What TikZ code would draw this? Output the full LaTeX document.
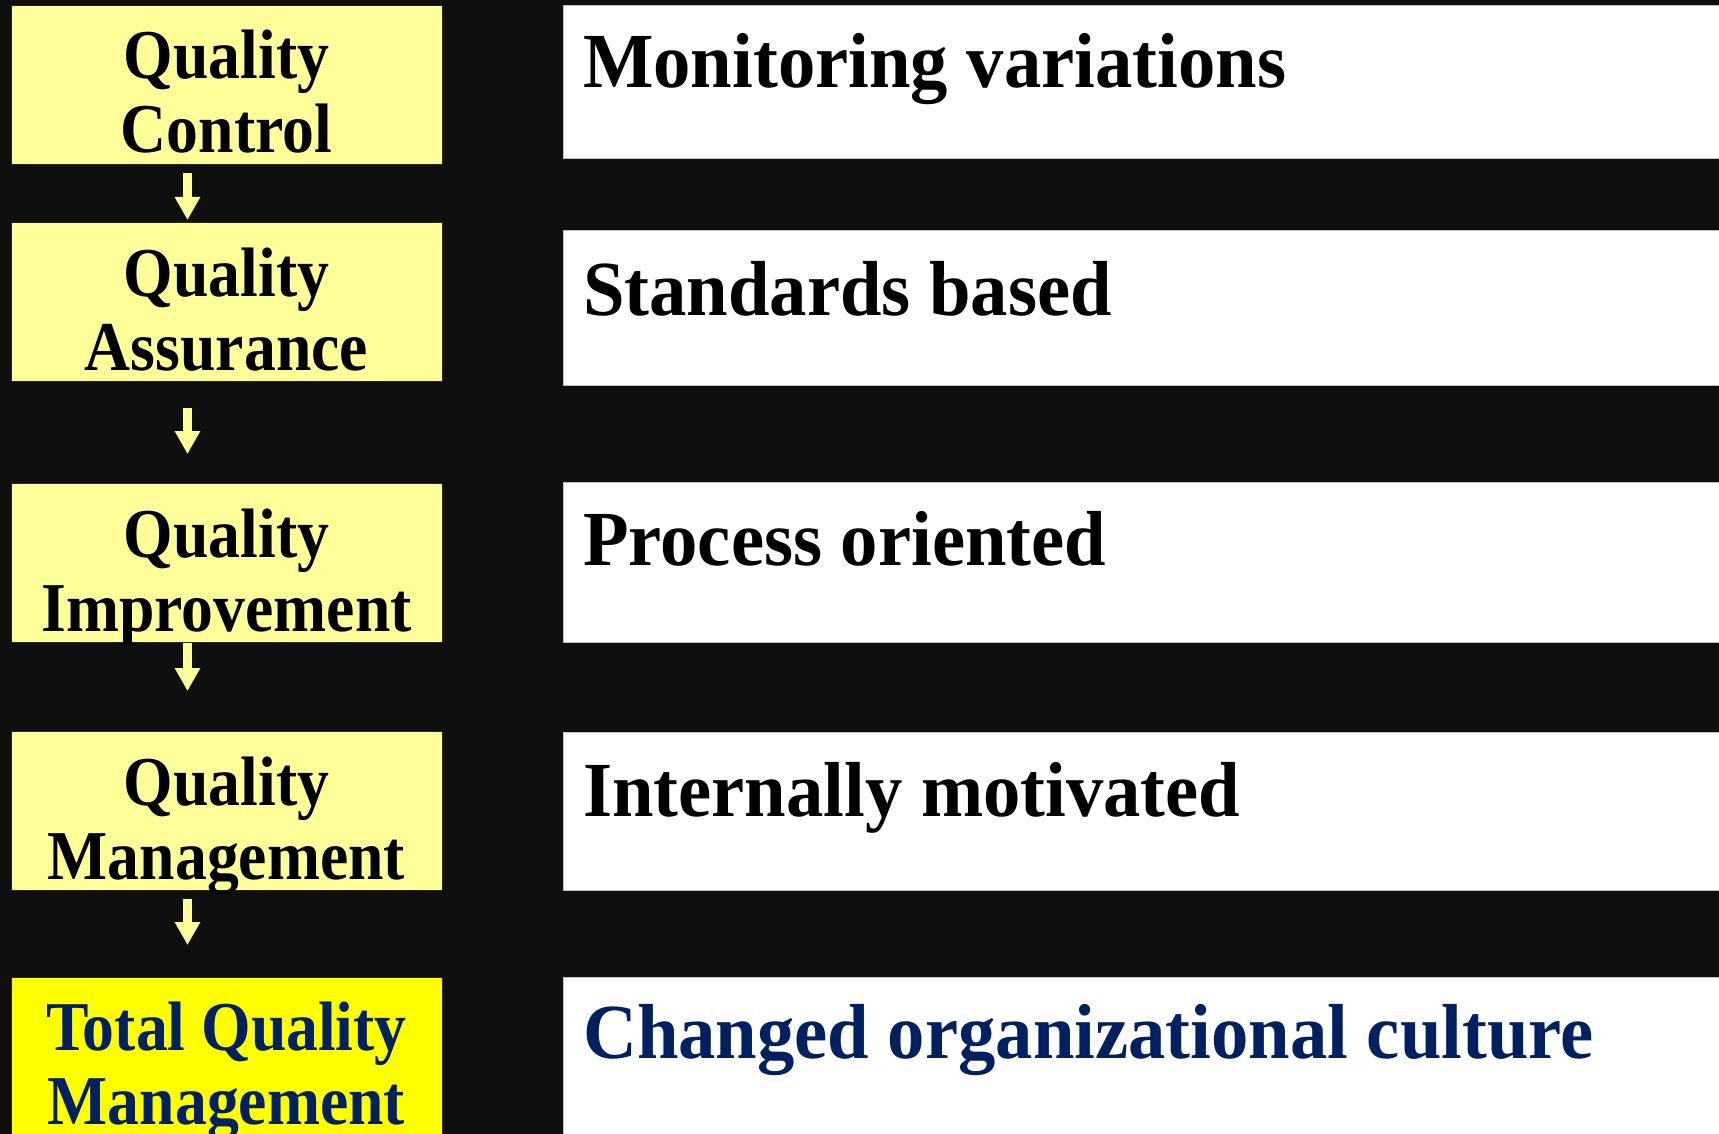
\documentclass[tikz,border=0pt]{standalone}
\usepackage{fontspec}
\setmainfont{Liberation Serif}
\newfontfamily\leftfont[FakeStretch=0.91]{Liberation Serif}
\newfontfamily\rightfont[FakeStretch=0.957]{Liberation Serif}
\usetikzlibrary{arrows.meta}
\definecolor{bg}{HTML}{0F0F0F}
\definecolor{lyel}{HTML}{FFFF99}
\definecolor{byel}{HTML}{FFFF00}
\definecolor{navy}{HTML}{002060}
\definecolor{wedge}{HTML}{C0C0C0}
\begin{document}
\begin{tikzpicture}[x=1pt,y=-1pt,
  lbox/.style={draw=black!85, line width=1pt, fill=lyel, minimum width=431pt, minimum height=159pt, anchor=north west, inner sep=0pt, outer sep=0pt},
  wbox/.style={draw=wedge, line width=1pt, fill=white, minimum width=1170pt, anchor=north west, inner sep=0pt, outer sep=0pt},
  ltext/.style={font=\leftfont\bfseries\fontsize{70}{74}\selectfont, align=center, anchor=base, inner sep=0pt},
  rtext/.style={font=\rightfont\bfseries\fontsize{78}{80}\selectfont, anchor=base west, inner sep=0pt},
  arr/.style={draw=lyel, line width=8.4pt, -{Triangle[width=24pt,length=23pt]}}
]
\fill[bg] (0,0) rectangle (1719,1134);
\useasboundingbox (0,0) rectangle (1719,1134);
\clip (0,0) rectangle (1719,1134);

% left boxes
\node[lbox] (qc) at (11,5.5) {};
\node[lbox] (qa) at (11,222.5) {};
\node[lbox] (qi) at (11,483.5) {};
\node[lbox] (qm) at (11,731) {};
\node[lbox, fill=byel, minimum height=180pt] (tqm) at (11,977) {};

% right boxes
\node[wbox, minimum height=153.5pt] (w1) at (563.5,5.5) {};
\node[wbox, minimum height=154pt] (w2) at (563.5,231) {};
\node[wbox, minimum height=160.5pt] (w3) at (563.5,482) {};
\node[wbox, minimum height=158pt] (w4) at (563.5,732) {};
\node[wbox, minimum height=180pt] (w5) at (563.5,977) {};

% left texts (base anchor = last line's baseline)
\node[ltext] (qct) at ([yshift=-147.5pt]qc.north) {Quality\\Control};
\node[ltext] (qat) at ([yshift=-147.5pt]qa.north) {Quality\\Assurance};
\node[ltext] (qit) at ([yshift=-147.5pt]qi.north) {Quality\\Improvement};
\node[ltext] (qmt) at ([yshift=-148pt]qm.north) {Quality\\Management};
\node[ltext, text=navy] (tqmt) at ([yshift=-147pt]tqm.north) {Total Quality\\Management};

% right texts
\node[rtext] (w1t) at ([xshift=19.5pt,yshift=-82.5pt]w1.north west) {Monitoring variations};
\node[rtext] (w2t) at ([xshift=19.5pt,yshift=-84pt]w2.north west) {Standards based};
\node[rtext] (w3t) at ([xshift=19.5pt,yshift=-83pt]w3.north west) {Process oriented};
\node[rtext] (w4t) at ([xshift=19.5pt,yshift=-84pt]w4.north west) {Internally motivated};
\node[rtext, text=navy] (w5t) at ([xshift=19.5pt,yshift=-81pt]w5.north west) {Changed organizational culture};

% arrows
\draw[arr] ([xshift=-39pt,yshift=-8.5pt]qc.south) -- ([xshift=-39pt,yshift=2.5pt]qa.north);
\draw[arr] ([xshift=-39pt,yshift=-26.5pt]qa.south) -- ([xshift=-39pt,yshift=29.5pt]qi.north);
\draw[arr] ([xshift=-39pt,yshift=-0.5pt]qi.south) -- ([xshift=-39pt,yshift=40pt]qm.north);
\draw[arr] ([xshift=-39pt,yshift=-8.5pt]qm.south) -- ([xshift=-39pt,yshift=32pt]tqm.north);
\end{tikzpicture}
\end{document}
